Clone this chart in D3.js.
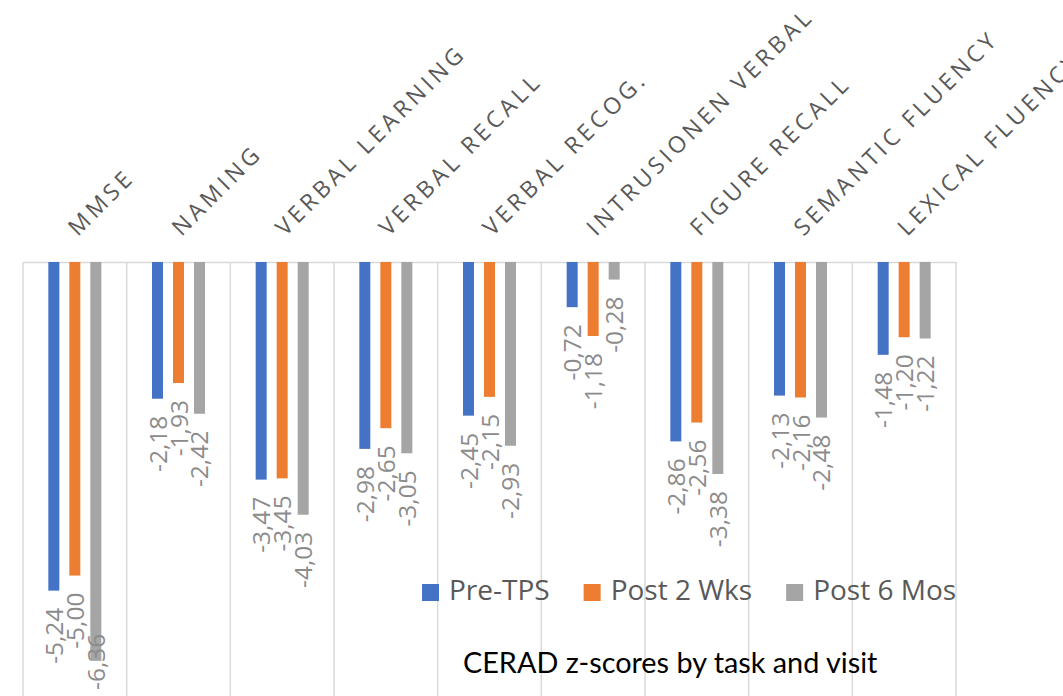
<!DOCTYPE html>
<html>
<head>
<meta charset="utf-8">
<script src="https://cdn.jsdelivr.net/npm/d3@7"></script>
<style>
  body { margin: 0; background: #fff; }
  svg { display: block; }
</style>
</head>
<body>
<script>
var width = 1063, height = 696;

// data
var tasks = ["MMSE", "NAMING", "VERBAL LEARNING", "VERBAL RECALL", "VERBAL RECOG.",
             "INTRUSIONEN VERBAL", "FIGURE RECALL", "SEMANTIC FLUENCY", "LEXICAL FLUENCY"];
var series = ["Pre-TPS", "Post 2 Wks", "Post 6 Mos"];
var preTPS   = [-5.24, -2.18, -3.47, -2.98, -2.45, -0.72, -2.86, -2.13, -1.48];
var post2Wks = [-5.00, -1.93, -3.45, -2.65, -2.15, -1.18, -2.56, -2.16, -1.20];
var post6Mos = [-6.36, -2.42, -4.03, -3.05, -2.93, -0.28, -3.38, -2.48, -1.22];
var colors = ["#4472c4", "#ed7d31", "#a5a5a5"];
var title = "CERAD z-scores by task and visit";

var values = [preTPS, post2Wks, post6Mos];
var rows = [];
tasks.forEach(function (t, i) {
  series.forEach(function (s, j) {
    rows.push({ task: t, series: s, value: values[j][i], color: colors[j] });
  });
});

var svg = d3.select("body").append("svg")
  .attr("width", width)
  .attr("height", height);

var x = d3.scaleBand().domain(tasks).range([23, 956]);
var xs = d3.scaleBand().domain(series).range([-26.5, 26.5]).paddingInner(0.476);
var y = d3.scaleLinear().domain([-7, 0]).range([701, 262]);

// vertical gridlines at category boundaries
var bounds = tasks.map(function (t) { return x(t); }).concat([x.range()[1]]);
svg.append("g").selectAll("line").data(bounds)
  .enter().append("line")
  .attr("x1", function (d) { return d; })
  .attr("x2", function (d) { return d; })
  .attr("y1", y(0))
  .attr("y2", height)
  .attr("stroke", "#d9d9d9")
  .attr("stroke-width", 1.5);

// top axis with rotated labels (the last one runs off the edge, as in the original)
var axis = svg.append("g")
  .attr("transform", "translate(0," + y(0) + ")")
  .call(d3.axisTop(x).tickSize(0).tickPadding(0));
axis.select(".domain").attr("stroke", "#d9d9d9").attr("stroke-width", 1.5);
axis.selectAll(".tick text")
  .attr("text-anchor", "start")
  .attr("transform", "translate(3,-25) rotate(-45)")
  .attr("dy", 0)
  .attr("y", 0)
  .attr("x", 0)
  .attr("font-family", "'Open Sans', sans-serif")
  .attr("font-size", "23px")
  .attr("letter-spacing", "3.9px")
  .attr("fill", "#595959");

// bars
var cat = svg.append("g").selectAll("g").data(rows)
  .enter().append("g")
  .attr("transform", function (d) { return "translate(" + (x(d.task) + x.bandwidth() / 2) + ",0)"; });

cat.append("rect")
  .attr("x", function (d) { return xs(d.series); })
  .attr("y", y(0))
  .attr("width", xs.bandwidth())
  .attr("height", function (d) { return y(d.value) - y(0); })
  .attr("fill", function (d) { return d.color; });

// data labels, rotated, below the bar end
var fmt = function (v) { return d3.format(".2f")(v).replace("\u2212", "-").replace(".", ","); };
cat.append("text")
  .text(function (d) { return fmt(d.value); })
  .attr("font-family", "'Open Sans', sans-serif")
  .attr("font-size", "24.5px")
  .attr("fill", "#8c8c8c")
  .attr("text-anchor", "start")
  .each(function (d) {
    var len = this.getComputedTextLength();
    var bottom = Math.min(y(d.value) + 17 + len, 690);
    d3.select(this).attr("transform",
      "translate(" + (xs(d.series) + xs.bandwidth() / 2 + 9) + "," + bottom + ") rotate(-90)");
  });

// legend
var legend = svg.append("g").attr("transform", "translate(422,0)");
var lx = 0;
series.forEach(function (s, j) {
  legend.append("rect")
    .attr("x", lx).attr("y", 584)
    .attr("width", 17).attr("height", 17)
    .attr("fill", colors[j]);
  var t = legend.append("text")
    .attr("x", lx + 27).attr("y", 600)
    .attr("font-family", "'Open Sans', sans-serif")
    .attr("font-size", "28px")
    .attr("fill", "#595959")
    .text(s);
  lx += 27 + t.node().getComputedTextLength() + 34;
});

// title
svg.append("text")
  .attr("x", 463).attr("y", 673)
  .attr("font-family", "Lato, sans-serif")
  .attr("font-size", "28.8px")
  .attr("fill", "#000")
  .text(title);
</script>
</body>
</html>
